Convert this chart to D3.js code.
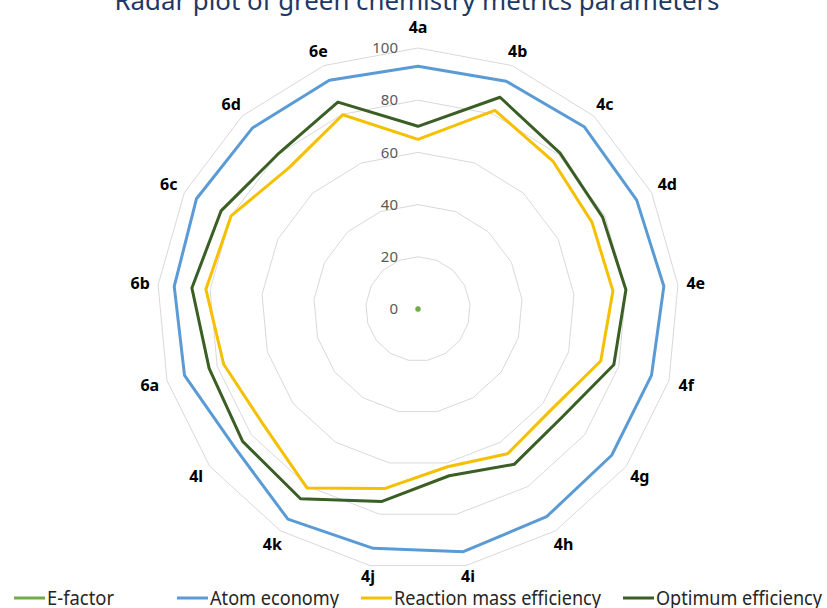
<!DOCTYPE html>
<html>
<head>
<meta charset="utf-8">
<script src="https://cdnjs.cloudflare.com/ajax/libs/d3/7.8.5/d3.min.js"></script>
<style>
  body { margin: 0; background: #fff; }
  svg { display: block; font-family: "Noto Sans", "Liberation Sans", sans-serif; }
</style>
</head>
<body>
<div class="chart_radar"></div>
<script>
// chart data
var categories = ["4a", "4b", "4c", "4d", "4e", "4f", "4g", "4h", "4i", "4j", "4k", "4l", "6a", "6b", "6c", "6d", "6e"];
var eFactor = [0.5, 0.5, 0.5, 0.5, 0.5, 0.5, 0.5, 0.5, 0.5, 0.5, 0.5, 0.5, 0.5, 0.5, 0.5, 0.5, 0.5];
var atomEconomy = [93, 93.6, 94.5, 93.6, 94.6, 93, 93, 93.6, 94.6, 93.3, 94.7, 88, 93, 93.8, 94.8, 94, 94];
var reactionMass = [65, 81.6, 76.7, 74.5, 75, 72.8, 64, 65.2, 61.5, 70, 80.7, 74, 77.4, 81.6, 80, 73.3, 79.8];
var optimumEff = [70, 87, 80.8, 79, 80, 78, 69, 70, 65, 75, 85.5, 84.2, 83.2, 87, 84.3, 80, 85];
var tickValues = [0, 20, 40, 60, 80, 100];
var seriesNames = ["E-factor", "Atom economy", "Reaction mass efficiency", "Optimum efficiency"];
var seriesColors = ["#70ad47", "#5b9bd5", "#f5c000", "#3a5e24"];

var svgWidth = 827;
var svgHeight = 608;
var cx = 418, cy = 309, radius = 261;

var svg = d3.select(".chart_radar")
    .append("svg")
    .attr("width", svgWidth)
    .attr("height", svgHeight);

// title, partly cut off by the top edge like the original
svg.append("text")
    .attr("x", 417)
    .attr("y", 10)
    .attr("text-anchor", "middle")
    .attr("textLength", 605)
    .attr("lengthAdjust", "spacingAndGlyphs")
    .style("font-size", "26px")
    .style("fill", "#1f3864")
    .text("Radar plot of green chemistry metrics parameters");

var chart = svg.append("g")
    .attr("transform", "translate(" + cx + "," + cy + ")");

var rScale = d3.scaleLinear().domain([0, 100]).range([0, radius]);
var angleStep = 2 * Math.PI / categories.length;

var radarLine = d3.lineRadial()
    .angle(function (d, i) { return i * angleStep; })
    .radius(function (d) { return rScale(d); })
    .curve(d3.curveLinearClosed);

// grid rings
chart.selectAll(".ring")
    .data(tickValues.slice(1))
    .enter()
    .append("path")
    .attr("class", "ring")
    .attr("d", function (t) { return radarLine(categories.map(function () { return t; })); })
    .attr("fill", "none")
    .attr("stroke", "#d9d9d9")
    .attr("stroke-width", 1);

// tick labels
chart.selectAll(".tick-label")
    .data(tickValues)
    .enter()
    .append("text")
    .attr("class", "tick-label")
    .attr("x", -20)
    .attr("y", function (t) { return -rScale(t); })
    .attr("dy", "0.35em")
    .attr("text-anchor", "end")
    .style("font-size", "15px")
    .style("fill", "#595959")
    .text(function (t) { return t; });

// category labels, centred a bit outside the outer ring
function labelDist(i) {
    var s = Math.sin(i * angleStep), c = Math.cos(i * angleStep);
    var d = radius + 13 + 5 * Math.abs(s);
    if (c > 0.95) d += 8;   // top label sits higher
    if (c < -0.95) d -= 3;  // bottom labels sit closer, above the legend
    return d;
}

chart.selectAll(".cat-label")
    .data(categories)
    .enter()
    .append("text")
    .attr("class", "cat-label")
    .attr("x", function (d, i) { return Math.sin(i * angleStep) * labelDist(i); })
    .attr("y", function (d, i) { return -Math.cos(i * angleStep) * labelDist(i); })
    .attr("dy", "0.35em")
    .attr("text-anchor", "middle")
    .style("font-size", "16px")
    .style("font-weight", "bold")
    .style("fill", "#000")
    .text(function (d) { return d; });

// series
var allSeries = [eFactor, atomEconomy, reactionMass, optimumEff];
chart.selectAll(".series")
    .data(allSeries)
    .enter()
    .append("path")
    .attr("class", "series")
    .attr("d", function (d) { return radarLine(d); })
    .attr("fill", "none")
    .attr("stroke", function (d, i) { return seriesColors[i]; })
    .attr("stroke-width", 3)
    .attr("stroke-linejoin", "round");

// legend
var legendX = [14, 177, 361, 623];
var legendTextLen = [67, 129, 207, 166];
var legend = svg.selectAll(".legend")
    .data(seriesNames)
    .enter()
    .append("g")
    .attr("class", "legend")
    .attr("transform", function (d, i) { return "translate(" + legendX[i] + ",598)"; });

legend.append("line")
    .attr("x1", 0)
    .attr("x2", 31)
    .attr("stroke", function (d, i) { return seriesColors[i]; })
    .attr("stroke-width", 3);

legend.append("text")
    .attr("x", 33)
    .attr("dy", "0.35em")
    .attr("textLength", function (d, i) { return legendTextLen[i]; })
    .attr("lengthAdjust", "spacingAndGlyphs")
    .style("font-size", "20px")
    .style("fill", "#262626")
    .text(function (d) { return d; });
</script>
</body>
</html>
